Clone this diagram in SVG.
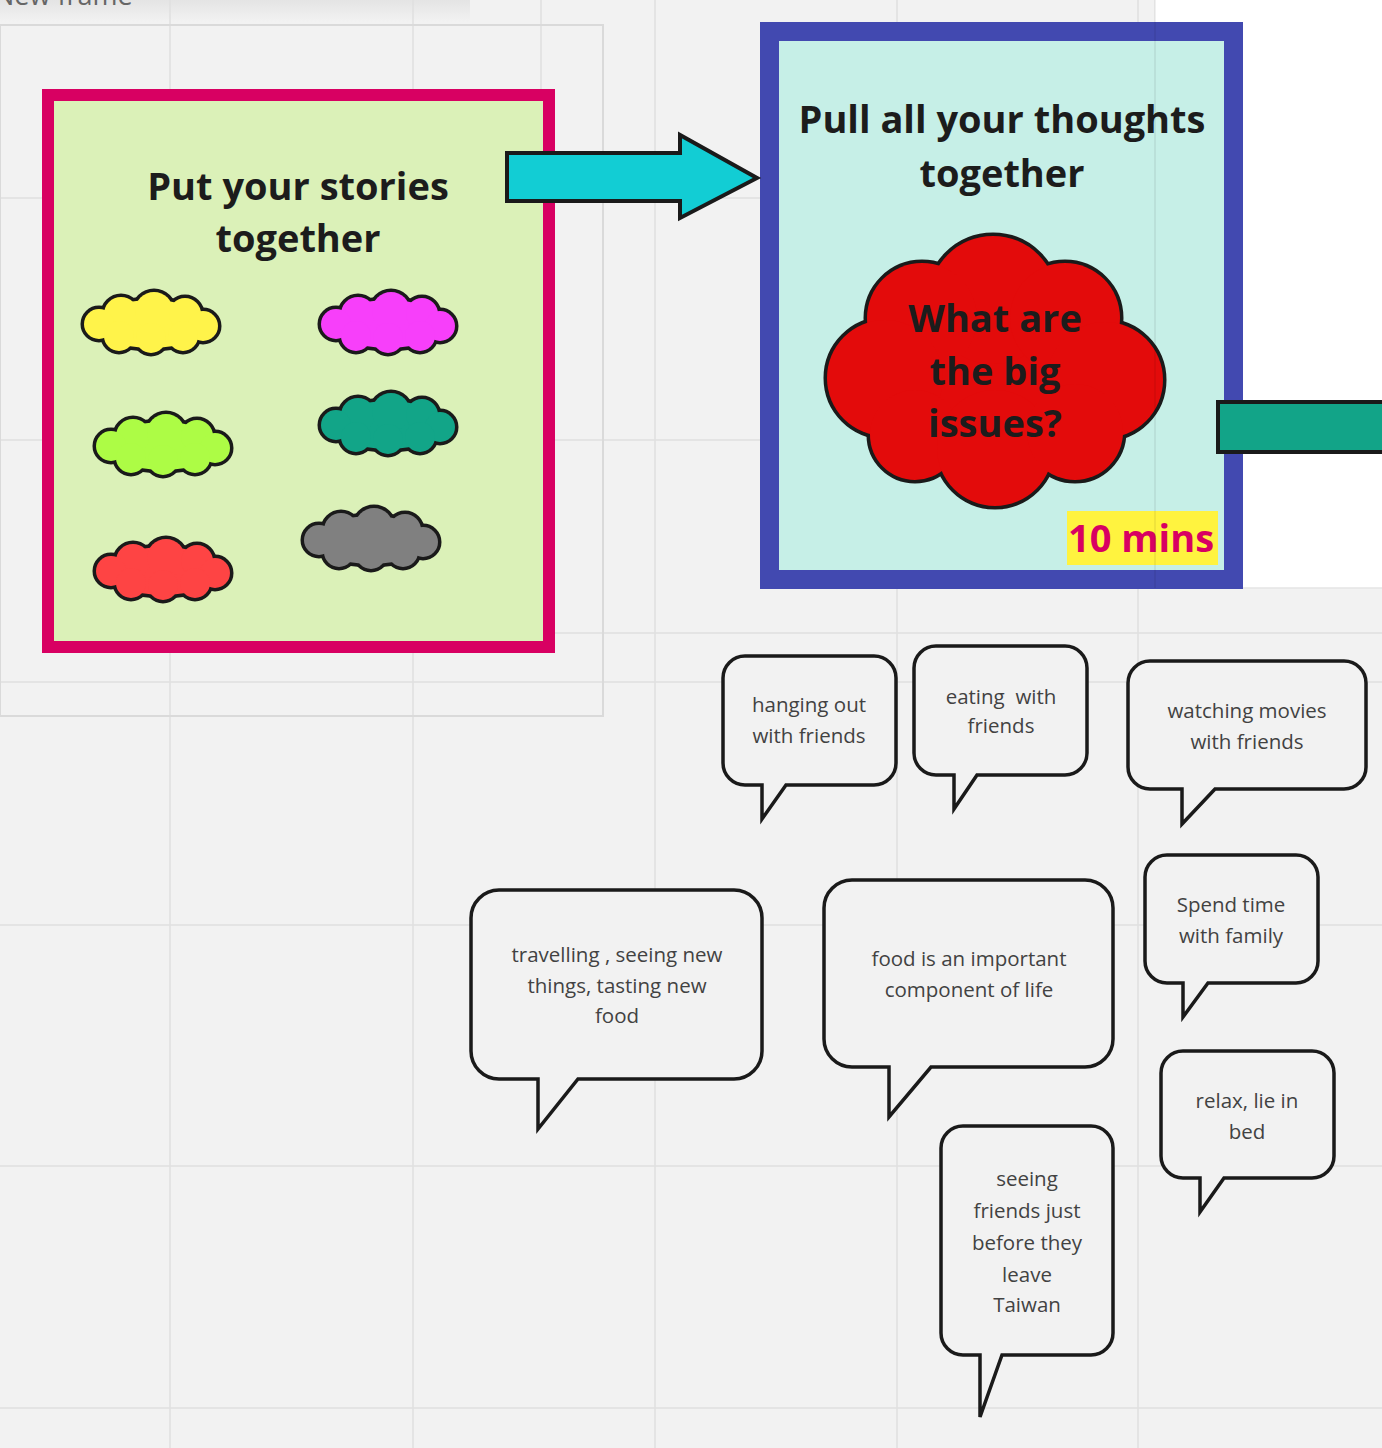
<svg xmlns="http://www.w3.org/2000/svg" xmlns:xlink="http://www.w3.org/1999/xlink" width="1382" height="1448" viewBox="0 0 1382 1448">
<style>
.grid{stroke:#e0e0e0;stroke-width:1.5;fill:none}
.title{font-family:"Open Sans","Liberation Sans",sans-serif;font-weight:700;font-size:38px;fill:#1c1c1c;text-anchor:middle}
.bub{fill:#f2f2f2;stroke:#1a1a1a;stroke-width:3.5;stroke-linejoin:miter}
.bt{font-family:"Open Sans","Liberation Sans",sans-serif;font-size:20.5px;fill:#424242;text-anchor:middle;white-space:pre}
.cs{fill:#1a1a1a;stroke:#1a1a1a;stroke-width:7}
.arrow{stroke:#1a1a1a;stroke-width:4;stroke-linejoin:miter}
</style>
<defs>
<linearGradient id="hdr" x1="0" y1="0" x2="0" y2="1">
<stop offset="0" stop-color="#e4e4e4"/>
<stop offset="1" stop-color="#f2f2f2"/>
</linearGradient>
<g id="cl">
<ellipse cx="0" cy="2" rx="54" ry="24"/>
<circle cx="-30" cy="-8" r="17"/>
<circle cx="3" cy="-11" r="19"/>
<circle cx="34" cy="-8" r="16"/>
<circle cx="-52" cy="2" r="15"/>
<circle cx="52" cy="4" r="15"/>
<circle cx="-32" cy="14" r="15"/>
<circle cx="0" cy="16" r="15"/>
<circle cx="32" cy="14" r="15"/>
</g>
<g id="bigcl">
<ellipse cx="995" cy="372" rx="125" ry="105"/>
<circle cx="993" cy="300" r="64"/>
<circle cx="922" cy="318" r="55"/>
<circle cx="1065" cy="318" r="55"/>
<circle cx="885" cy="378" r="58"/>
<circle cx="1105" cy="380" r="58"/>
<circle cx="915" cy="435" r="45"/>
<circle cx="995" cy="448" r="58"/>
<circle cx="1075" cy="432" r="48"/>
</g>
</defs>
<g id="background">
<rect x="0" y="0" width="1382" height="1448" fill="#f2f2f2"/>
<rect x="1155" y="0" width="227" height="588" fill="#ffffff"/>
<rect x="0" y="0" width="470" height="22" fill="url(#hdr)"/>
<path class="grid" d="M170 0V1448M413 0V1448M655 0V1448M897 0V1448M1138 0V1448M0 198H1155M0 440H1155M0 682H1382M0 925H1382M0 1166H1382M0 1408H1382M541 0V90M541 633H1382"/>
<rect x="0" y="25" width="603" height="691" fill="none" stroke="#dadada" stroke-width="2"/>
<line x1="1155" y1="588" x2="1382" y2="588" stroke="#e4e4e4" stroke-width="1.5"/>
<text x="-6" y="5" font-family="'Open Sans','Liberation Sans',sans-serif" font-size="27" fill="#666">New frame</text>
</g>
<g id="stories-box">
<rect x="48" y="95" width="501" height="552" fill="#dbf1b8" stroke="#d80062" stroke-width="12"/>
<text class="title" x="298" y="200">Put your stories</text>
<text class="title" x="298" y="252">together</text>
</g>
<g id="cloud-yellow" transform="translate(151,322)"><use xlink:href="#cl" class="cs"/><use xlink:href="#cl" fill="#fff34a"/></g>
<g id="cloud-magenta" transform="translate(388,322)"><use xlink:href="#cl" class="cs"/><use xlink:href="#cl" fill="#f73ffa"/></g>
<g id="cloud-lime" transform="translate(163,444)"><use xlink:href="#cl" class="cs"/><use xlink:href="#cl" fill="#adfc45"/></g>
<g id="cloud-teal" transform="translate(388,423)"><use xlink:href="#cl" class="cs"/><use xlink:href="#cl" fill="#12a588"/></g>
<g id="cloud-red" transform="translate(163,569)"><use xlink:href="#cl" class="cs"/><use xlink:href="#cl" fill="#fe4444"/></g>
<g id="cloud-gray" transform="translate(371,538)"><use xlink:href="#cl" class="cs"/><use xlink:href="#cl" fill="#808080"/></g>
<g id="thoughts-box">
<rect x="769.5" y="31.5" width="464" height="548" fill="#c6efe7" stroke="#4249b0" stroke-width="19"/>
<text class="title" x="1002" y="133">Pull all your thoughts</text>
<text class="title" x="1002" y="187">together</text>
</g>
<g id="big-issues">
<use xlink:href="#bigcl" class="cs"/>
<use xlink:href="#bigcl" fill="#e30b0b"/>
<text class="title" x="995" y="332">What are</text>
<text class="title" x="995" y="385">the big</text>
<text class="title" x="995" y="437">issues?</text>
</g>
<g id="time-label">
<rect x="1067" y="511" width="151" height="54" fill="#fff33f"/>
<text x="1141" y="552" font-family="'Open Sans','Liberation Sans',sans-serif" font-weight="700" font-size="38" fill="#d80062" text-anchor="middle">10 mins</text>
</g>
<g id="connectors">
<polygon class="arrow" points="507,153 680,153 680,135 757,178 680,218 680,201 507,201" fill="#12cdd4"/>
<polygon class="arrow" points="1218,402 1400,402 1400,452 1218,452" fill="#12a488"/>
</g>
<line x1="1155" y1="0" x2="1155" y2="588" stroke="#000" stroke-opacity="0.08" stroke-width="1.5"/>
<g id="bubble-hanging">
<path class="bub" d="M745,656 H874 A22,22 0 0 1 896,678 V763 A22,22 0 0 1 874,785 H786 L762,819 V785 H745 A22,22 0 0 1 723,763 V678 A22,22 0 0 1 745,656 Z"/>
<text class="bt" x="809" y="712">hanging out</text>
<text class="bt" x="809" y="743">with friends</text>
</g>
<g id="bubble-eating">
<path class="bub" d="M936,646 H1065 A22,22 0 0 1 1087,668 V753 A22,22 0 0 1 1065,775 H977 L954,809 V775 H936 A22,22 0 0 1 914,753 V668 A22,22 0 0 1 936,646 Z"/>
<text class="bt" x="1001" y="704">eating  with</text>
<text class="bt" x="1001" y="733">friends</text>
</g>
<g id="bubble-movies">
<path class="bub" d="M1150,661 H1344 A22,22 0 0 1 1366,683 V767 A22,22 0 0 1 1344,789 H1215 L1182,824 V789 H1150 A22,22 0 0 1 1128,767 V683 A22,22 0 0 1 1150,661 Z"/>
<text class="bt" x="1247" y="718">watching movies</text>
<text class="bt" x="1247" y="749">with friends</text>
</g>
<g id="bubble-travelling">
<path class="bub" d="M499,890 H734 A28,28 0 0 1 762,918 V1051 A28,28 0 0 1 734,1079 H578 L538,1129 V1079 H499 A28,28 0 0 1 471,1051 V918 A28,28 0 0 1 499,890 Z"/>
<text class="bt" x="617" y="962">travelling , seeing new</text>
<text class="bt" x="617" y="993">things, tasting new</text>
<text class="bt" x="617" y="1023">food</text>
</g>
<g id="bubble-food">
<path class="bub" d="M852,880 H1085 A28,28 0 0 1 1113,908 V1039 A28,28 0 0 1 1085,1067 H931 L889,1117 V1067 H852 A28,28 0 0 1 824,1039 V908 A28,28 0 0 1 852,880 Z"/>
<text class="bt" x="969" y="966">food is an important</text>
<text class="bt" x="969" y="997">component of life</text>
</g>
<g id="bubble-family">
<path class="bub" d="M1167,855 H1296 A22,22 0 0 1 1318,877 V961 A22,22 0 0 1 1296,983 H1208 L1183,1017 V983 H1167 A22,22 0 0 1 1145,961 V877 A22,22 0 0 1 1167,855 Z"/>
<text class="bt" x="1231" y="912">Spend time</text>
<text class="bt" x="1231" y="943">with family</text>
</g>
<g id="bubble-relax">
<path class="bub" d="M1183,1051 H1312 A22,22 0 0 1 1334,1073 V1156 A22,22 0 0 1 1312,1178 H1224 L1200,1212 V1178 H1183 A22,22 0 0 1 1161,1156 V1073 A22,22 0 0 1 1183,1051 Z"/>
<text class="bt" x="1247" y="1108">relax, lie in</text>
<text class="bt" x="1247" y="1139">bed</text>
</g>
<g id="bubble-seeing">
<path class="bub" d="M963,1126 H1091 A22,22 0 0 1 1113,1148 V1333 A22,22 0 0 1 1091,1355 H1002 L980,1417 V1355 H963 A22,22 0 0 1 941,1333 V1148 A22,22 0 0 1 963,1126 Z"/>
<text class="bt" x="1027" y="1186">seeing</text>
<text class="bt" x="1027" y="1218">friends just</text>
<text class="bt" x="1027" y="1250">before they</text>
<text class="bt" x="1027" y="1282">leave</text>
<text class="bt" x="1027" y="1312">Taiwan</text>
</g>
</svg>
